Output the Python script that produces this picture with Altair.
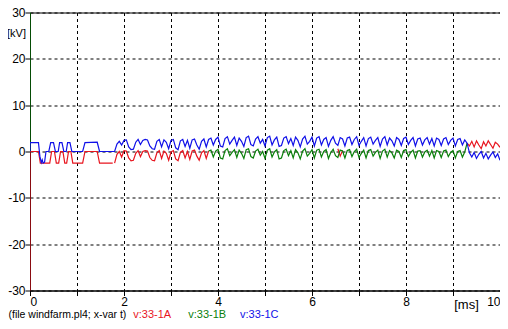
import altair as alt
import pandas as pd

STEP = 0.05

# ---- Phase C (blue) ----
blue_early_t = [0, 0, 0.18, 0.21, 0.24, 0.26, 0.28, 0.31, 0.34, 0.40, 0.44, 0.50, 0.54,
                0.60, 0.63, 0.68, 0.72, 0.77, 0.80, 0.85, 0.89, 1.12, 1.17, 1.43, 1.48, 1.76]
blue_early_v = [0, 1.9, 1.9, -1.0, -2.4, -1.8, -2.5, -2.3, 0, 0, 1.9, 1.9, 0,
                0, 1.9, 1.9, 0, 0, 1.9, 1.9, 0, 0, 1.9, 2.0, 0, 0]
blue_noise_t0 = 1.80
blue_noise_v = [
    0.0, 1.6, 2.2, 1.4, 2.4, 2.5, 1.0, 0.4, 0.5, 2.0,
    2.6, 1.5, 2.4, 2.6, 2.5, 1.2, 0.6, 0.5, 2.2, 2.6,
    1.0, 2.5, 2.0, 0.6, 2.4, 2.6, 0.8, 0.4, 2.3, 2.6,
    1.1, 2.4, 0.7, 2.5, 2.7, 1.4, 0.5, 2.2, 2.7, 1.0,
    2.6,
    2.9, 1.4, 2.6, 3.1, 1.2, 1.0, 2.8, 3.2, 1.6, 2.4,
    3.1, 1.3, 2.9, 2.2, 1.1, 3.0, 3.3, 1.5, 1.2, 2.7,
    3.2, 1.8, 2.6, 1.2, 3.0, 3.3, 1.4, 2.5, 3.1, 1.1,
    1.3, 2.9, 3.2, 1.7, 2.8, 1.3, 3.1, 2.4, 1.0, 2.7,
    3.3, 1.6, 2.2, 3.1, 1.2, 2.9, 3.2, 1.4, 2.6, 3.0,
    1.1, 2.4, 3.2, 1.8, 1.3, 3.0, 2.7, 1.2, 2.9, 3.1,
    1.5, 2.6, 3.2, 1.3, 2.2, 3.0, 1.2, 2.8, 3.1, 1.6,
    2.4, 3.0, 1.1, 2.7, 3.2, 1.4, 2.9, 2.3, 1.2, 3.0,
    2.6, 1.3, 2.8, 3.1, 1.5, 2.4, 3.0, 1.2, 2.7, 2.9,
    1.4, 2.5, 3.0, 1.6, 2.8, 1.2, 2.9, 2.6, 1.3, 2.7,
    3.0, 1.5, 2.4, 2.9, 1.2, 2.6, 2.8, 1.4, 2.5, 1.8,
    -0.3, -1.2, -0.2, -1.5, -0.6, 0.0, -1.4, -0.4, -1.6, -0.8,
    -0.1, -1.3, -0.5, -1.9,
]

# ---- Phase A (red) ----
red_early_t = [0, 0, 0.18, 0.22, 0.42, 0.46, 0.52, 0.56, 0.61, 0.65, 0.70, 0.74,
               0.78, 0.82, 0.87, 0.91, 1.12, 1.17, 1.43, 1.48, 1.76]
red_early_v = [-40, 0, 0, -2.5, -2.5, 0, 0, -2.5, -2.5, 0, 0, -2.5,
               -2.5, 0, 0, -2.5, -2.5, 0, 0, -2.5, -2.5]
red_noise_t0 = 1.80
red_noise_v = [
    -2.5, -0.6, 0.0, -1.2, 0.2, 0.1, -1.4, -2.0, -1.9, -0.4,
    0.2, -1.1, 0.0, 0.2, 0.1, -1.3, -1.9, -2.0, -0.3, 0.2,
    -1.5, 0.1, -0.4, -1.9, -0.1, 0.2, -1.6, -2.0, -0.2, 0.2,
    -1.4, 0.0, -1.7, 0.1, 0.3, -1.0, -1.9, -0.3, 0.2, -1.5,
    0.1,
]
red_blip_t0 = 6.55
red_blip_v = [0.6, -1.0, 0.2]
red_late_t0 = 9.30
red_late_v = [1.8, 1.2, 2.2, 1.0, 2.3, 1.4, 0.6, 2.1, 1.2, 2.3, 1.5, 0.7, 2.0, 1.6, 0.9]

# ---- Phase B (green) ----
green_spike_t = [0, 0]
green_spike_v = [0, 40]
green_noise_t0 = 3.80
green_noise_v = [
    0.1,
    0.3, -1.2, 0.1, 0.5, -1.4, -1.6, 0.2, 0.6, -0.9, -0.2,
    0.4, -1.3, 0.3, -0.4, -1.5, 0.4, 0.6, -1.1, -1.4, 0.1,
    0.5, -0.8, 0.0, -1.5, 0.3, 0.6, -1.2, -0.1, 0.4, -1.6,
    -1.4, 0.2, 0.5, -0.9, 0.2, -1.4, 0.4, -0.3, -1.6, 0.1,
    0.6, -1.0, -0.4, 0.4, -1.4, 0.3, 0.5, -1.2, 0.0, 0.4,
    -1.5, -0.2, 0.5, -0.9, -1.3, 0.3, 0.1, -1.4, 0.2, 0.4,
    -1.1, 0.0, 0.5, -1.3, -0.4, 0.3, -1.4, 0.2, 0.4, -1.0,
    -0.2, 0.3, -1.5, 0.1, 0.5, -1.2, 0.2, -0.3, -1.4, 0.3,
    0.0, -1.3, 0.2, 0.4, -1.1, -0.2, 0.3, -1.4, 0.1, 0.2,
    -1.2, -0.1, 0.3, -1.0, 0.2, -1.4, 0.2, 0.0, -1.3, 0.1,
    0.3, -1.1, -0.2, 0.2, -1.4, 0.0, 0.2, -1.2, -0.1, 1.8,
]

series_names = ["v:33-1A", "v:33-1B", "v:33-1C"]
series_colors = ["#e8141e", "#0a800a", "#1010e8"]
footer = "(file windfarm.pl4; x-var t)"


def rows(name, seg, ts, vs):
    return [dict(s=name, seg=seg, t=t, v=v, i=k) for k, (t, v) in enumerate(zip(ts, vs))]


def uniform(t0, vs):
    return [round(t0 + STEP * k, 4) for k in range(len(vs))]


red_rows = (rows("A", "a1", red_early_t, red_early_v)
            + rows("A", "a2", uniform(red_noise_t0, red_noise_v), red_noise_v)
            + rows("A", "a3", uniform(red_blip_t0, red_blip_v), red_blip_v)
            + rows("A", "a4", uniform(red_late_t0, red_late_v), red_late_v))
green_rows = (rows("B", "b1", green_spike_t, green_spike_v)
              + rows("B", "b2", uniform(green_noise_t0, green_noise_v), green_noise_v))
blue_rows = rows("C", "c1", blue_early_t + uniform(blue_noise_t0, blue_noise_v),
                 blue_early_v + blue_noise_v)

FONT = "Liberation Sans"
W, H = 470, 278
PAD_L, PAD_T = 22, 4.5

x_enc = alt.X(
    "t:Q",
    scale=alt.Scale(domain=[0, 10], nice=False, zero=False),
    axis=alt.Axis(
        values=list(range(0, 11)),
        labelExpr="datum.value % 2 == 0 ? datum.label : ''",
        title="[ms]", titleX=436, titleY=13.5, titleAlign="center",
        titleBaseline="middle", titleFontSize=13, titleFontWeight="normal",
        labelPadding=1,
    ),
)
y_enc = alt.Y(
    "v:Q",
    scale=alt.Scale(domain=[-30, 30], nice=False, zero=False),
    axis=alt.Axis(
        values=[-30, -20, -10, 0, 10, 20, 30],
        labelExpr="datum.value < 0 ? '-' + abs(datum.value) : '' + datum.value",
        title="[kV]", titleAngle=0, titleX=-14, titleY=20.5, titleAlign="center",
        titleBaseline="middle", titleFontSize=11, titleFontWeight="normal",
        labelPadding=0,
    ),
)


def line_layer(data, color):
    return alt.Chart(pd.DataFrame(data)).mark_line(
        color=color, strokeWidth=1.2, clip=True, interpolate="linear"
    ).encode(x=x_enc, y=y_enc, detail="seg:N", order="i:Q")


red = line_layer(red_rows, series_colors[0])
green = line_layer(green_rows, series_colors[1])
blue = line_layer(blue_rows, series_colors[2])


def label(text, xpix, color, size=11):
    return alt.Chart(pd.DataFrame({"a": [0]})).mark_text(
        text=text, align="left", baseline="alphabetic", font=FONT, fontSize=size, color=color
    ).encode(x=alt.value(xpix), y=alt.value(305.5))


texts = (label(footer, -21.5, "#000000", 10.5)
         + label(series_names[0], 103.3, series_colors[0])
         + label(series_names[1], 158.3, series_colors[1])
         + label(series_names[2], 210, series_colors[2]))

chart = alt.layer(red, green, blue, texts).properties(
    width=W, height=H,
    autosize=alt.AutoSizeParams(type="none"),
    padding={"left": PAD_L, "top": PAD_T, "right": 0, "bottom": 30.5},
    background="white",
).configure_view(
    stroke="black", strokeWidth=1
).configure_axis(
    domainColor="black", domainWidth=1, tickColor="black", tickSize=5, tickWidth=1,
    grid=True, gridColor="black", gridDash=[3, 3], gridOpacity=1, gridWidth=1,
    labelFont=FONT, labelFontSize=12, labelColor="black",
    titleFont=FONT, titleColor="black",
)

chart.save("out.html", embed_options={"renderer": "svg", "actions": False})
